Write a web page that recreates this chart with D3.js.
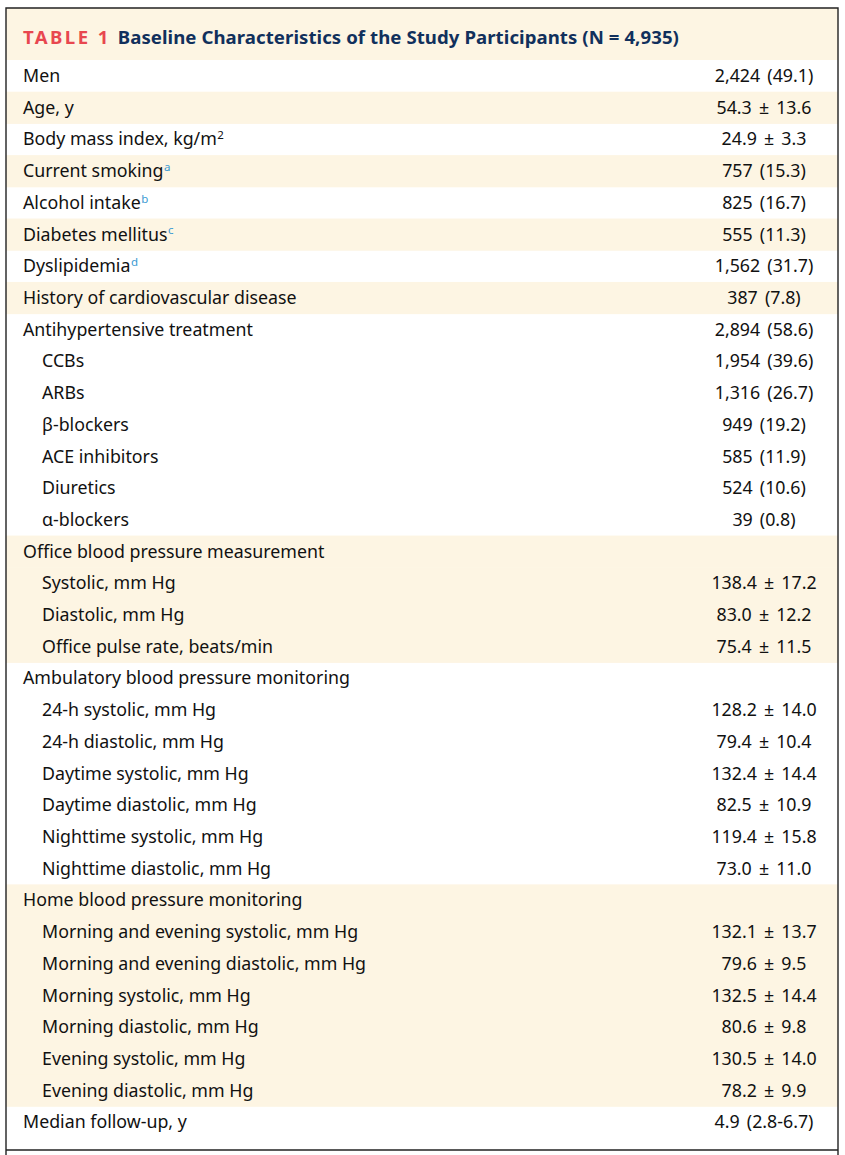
<!DOCTYPE html>
<html><head><meta charset="utf-8">
<script src="https://cdn.jsdelivr.net/npm/d3@7"></script>
<style>
html,body{margin:0;padding:0;background:#fff;}
svg{display:block;}
</style></head>
<body>
<svg id="chart" width="845" height="1155"></svg>
<script>
const tableLabel = "TABLE 1";
const tableTitle = "Baseline Characteristics of the Study Participants (N = 4,935)";

const labels = [
  "Men","Age, y","Body mass index, kg/m","Current smoking","Alcohol intake","Diabetes mellitus",
  "Dyslipidemia","History of cardiovascular disease","Antihypertensive treatment",
  "CCBs","ARBs","β-blockers","ACE inhibitors","Diuretics","α-blockers",
  "Office blood pressure measurement","Systolic, mm Hg","Diastolic, mm Hg","Office pulse rate, beats/min",
  "Ambulatory blood pressure monitoring","24-h systolic, mm Hg","24-h diastolic, mm Hg",
  "Daytime systolic, mm Hg","Daytime diastolic, mm Hg","Nighttime systolic, mm Hg","Nighttime diastolic, mm Hg",
  "Home blood pressure monitoring","Morning and evening systolic, mm Hg","Morning and evening diastolic, mm Hg",
  "Morning systolic, mm Hg","Morning diastolic, mm Hg","Evening systolic, mm Hg","Evening diastolic, mm Hg",
  "Median follow-up, y"
];
const superscripts = ["","","2","a","b","c","d","","","","","","","","","","","","","","","","","","","","","","","","","","",""];
const indentLevel = [0,0,0,0,0,0,0,0,0,1,1,1,1,1,1,0,1,1,1,0,1,1,1,1,1,1,0,1,1,1,1,1,1,0];
const values = [
  "2,424 (49.1)","54.3 ± 13.6","24.9 ± 3.3","757 (15.3)","825 (16.7)","555 (11.3)",
  "1,562 (31.7)","387 (7.8)","2,894 (58.6)",
  "1,954 (39.6)","1,316 (26.7)","949 (19.2)","585 (11.9)","524 (10.6)","39 (0.8)",
  "","138.4 ± 17.2","83.0 ± 12.2","75.4 ± 11.5",
  "","128.2 ± 14.0","79.4 ± 10.4","132.4 ± 14.4","82.5 ± 10.9","119.4 ± 15.8","73.0 ± 11.0",
  "","132.1 ± 13.7","79.6 ± 9.5","132.5 ± 14.4","80.6 ± 9.8","130.5 ± 14.0","78.2 ± 9.9",
  "4.9 (2.8-6.7)"
];
// 1 = shaded band, 0 = white
const shaded = [0,1,0,1,0,1,0,1,0,0,0,0,0,0,0,1,1,1,1,0,0,0,0,0,0,0,1,1,1,1,1,1,1,0];

const W = 845, H = 1155;
const L = 6, R = 838, TOP = 8, HEAD_B = 60, BODY_B = 1138, FOOT = 1150;
const cream = "#fdf5e3";
const FONT = "'Noto Sans', 'Open Sans', sans-serif";
const FS = 17.8;

const svg = d3.select("#chart");
const rows = labels.map((l,i)=>({label:l, sup:superscripts[i], ind:indentLevel[i], val:values[i], sh:shaded[i], i}));

const y = d3.scaleBand().domain(d3.range(rows.length)).range([HEAD_B, BODY_B]).padding(0);
const x = d3.scaleOrdinal().domain([0,1]).range([23, 42]);
const valueX = 764;

// header background
svg.append("rect").attr("x", L).attr("y", TOP).attr("width", R-L).attr("height", HEAD_B-TOP).attr("fill", cream);

// row backgrounds
svg.append("g").selectAll("rect").data(rows.filter(d=>d.sh)).join("rect")
  .attr("x", L).attr("y", d=>y(d.i)).attr("width", R-L).attr("height", y.bandwidth()+0.5)
  .attr("fill", cream);

// title
const title = svg.append("text").attr("x", 23).attr("y", 43.5)
  .attr("font-family", FONT).attr("font-weight", "bold").attr("font-size", 18.6);
title.append("tspan").attr("fill", "#e8474f").attr("letter-spacing", 2.4).text(tableLabel);
title.append("tspan").attr("dx", 7).attr("fill", "#11305c").attr("letter-spacing", 0.07).text(tableTitle);

// labels
const lab = svg.append("g").selectAll("text").data(rows).join("text")
  .attr("x", d=>x(d.ind)).attr("y", d=>y(d.i)+y.bandwidth()/2).attr("dy", "0.35em")
  .attr("font-family", FONT).attr("font-size", FS).attr("fill", "#111");
lab.append("tspan").text(d=>d.label);
lab.filter(d=>d.sup).append("tspan")
  .attr("dx", 0.5).attr("dy", "-0.55em").attr("font-size", 11.5)
  .attr("fill", d=>d.sup==="2" ? "#111" : "#3a9ad2")
  .text(d=>d.sup);

// values
svg.append("g").selectAll("text").data(rows.filter(d=>d.val)).join("text")
  .attr("x", valueX).attr("y", d=>y(d.i)+y.bandwidth()/2).attr("dy", "0.35em")
  .attr("text-anchor", "middle").attr("word-spacing", 2.5)
  .attr("font-family", FONT).attr("font-size", FS).attr("fill", "#111")
  .text(d=>d.val);

// frame
const frame = svg.append("g").attr("stroke", "#222").attr("stroke-width", 1.4).attr("fill", "none");
frame.append("path").attr("d", `M${L},${H} V${TOP} H${R} V${H}`);
frame.append("line").attr("x1", L).attr("x2", R).attr("y1", FOOT).attr("y2", FOOT);
</script>
</body></html>
